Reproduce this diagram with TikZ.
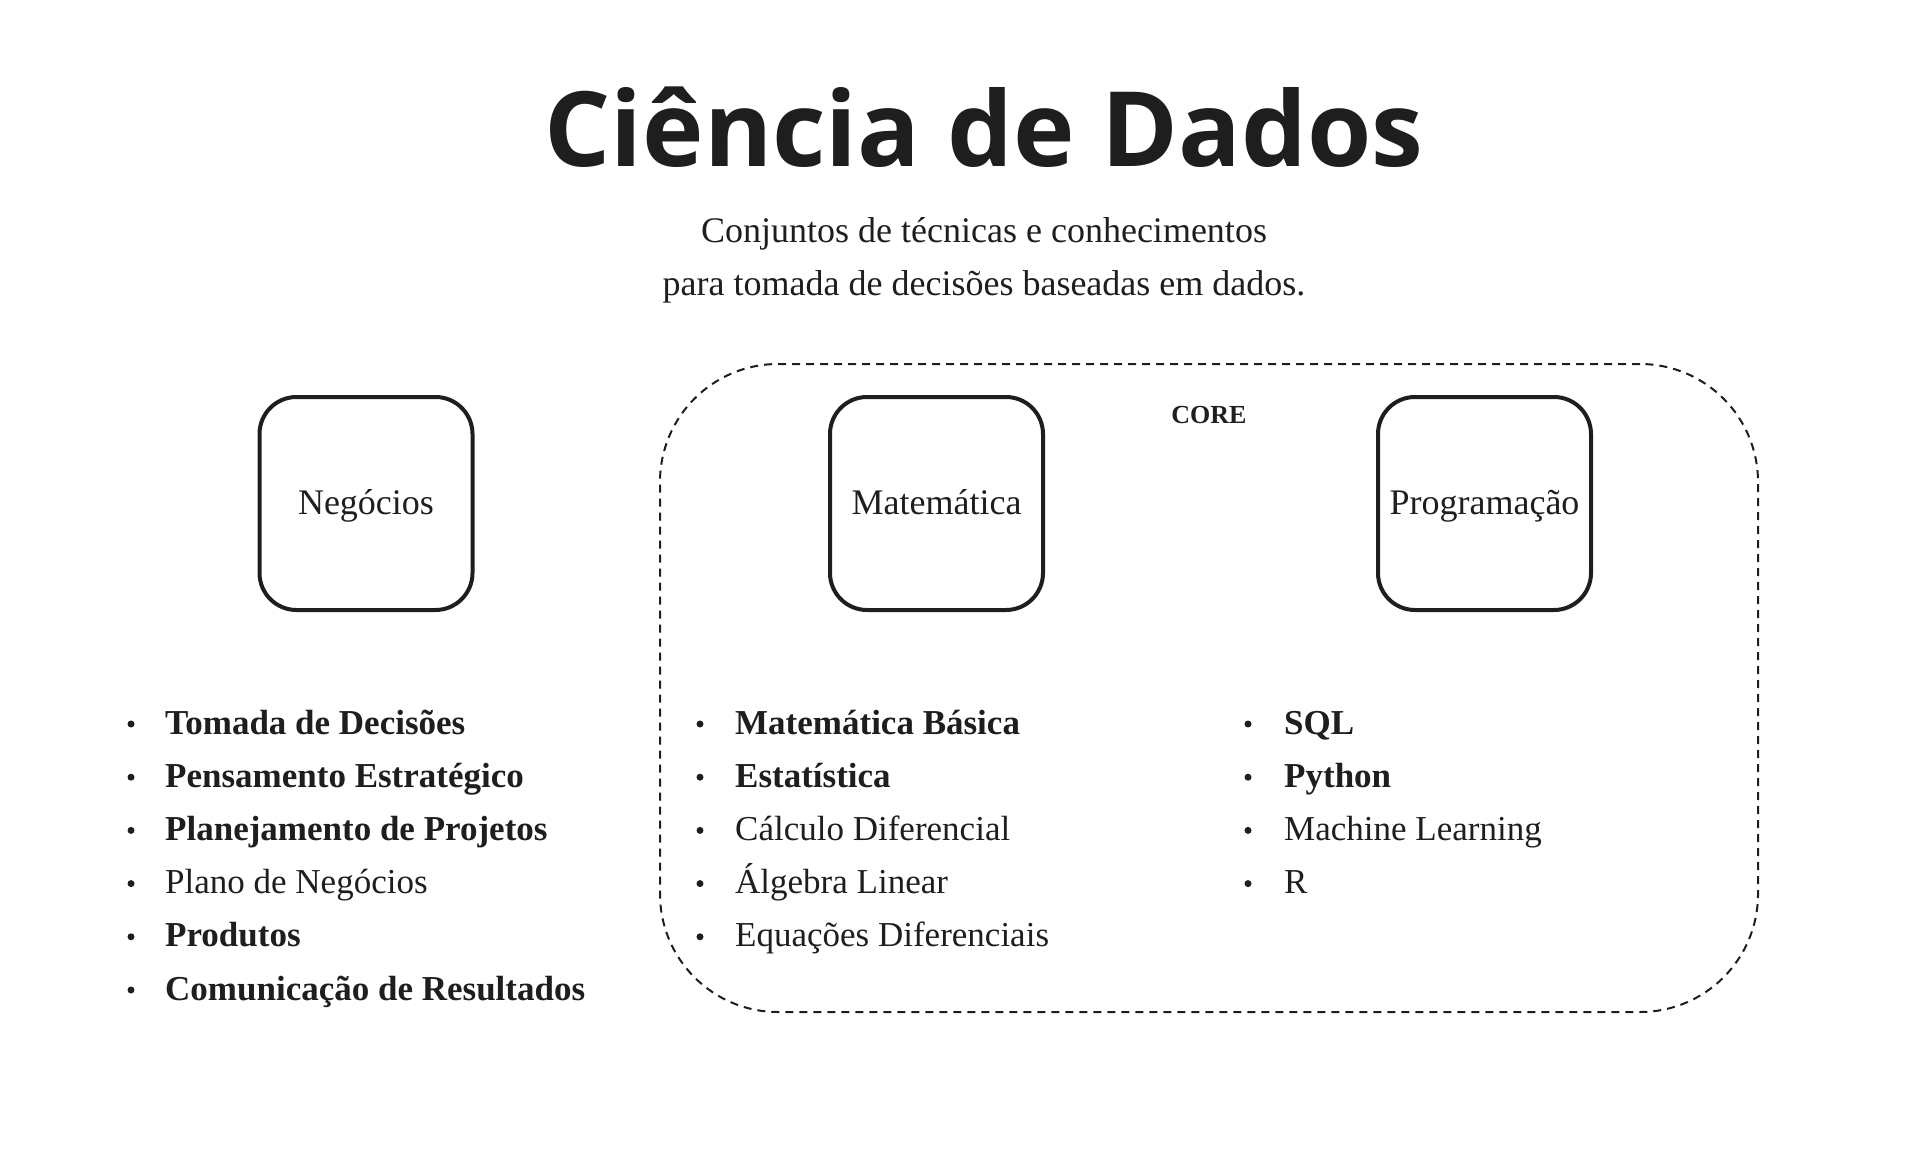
\documentclass[tikz,border=0pt]{standalone}
\usepackage{fontspec}
\setmainfont{Liberation Serif}
\newfontfamily\titlefont{Open Sans}
\usepackage{tikz}
\usetikzlibrary{positioning}
\definecolor{inkGray}{RGB}{30,30,30}

\begin{document}
\begin{tikzpicture}[
    x=1pt, y=-1pt, text=inkGray,
    area/.style={draw=inkGray, line width=4pt, rounded corners=37pt,
      minimum width=213pt, minimum height=213pt, inner sep=0pt,
      text height=30pt, text depth=8pt, font=\fontsize{36}{40}\selectfont},
    coreframe/.style={draw=inkGray, line width=2pt, dash pattern=on 8pt off 6pt,
      rounded corners=118pt, minimum width=1098pt, minimum height=648pt},
    item/.style={anchor=base west, inner sep=0pt, font=\fontsize{35}{40}\selectfont},
    bulletdot/.style={circle, fill=inkGray, inner sep=0pt, minimum size=7pt}
  ]
  \useasboundingbox (0,0) rectangle (1928,1166);

  % title
  \node[font=\titlefont\bfseries\fontsize{104}{120}\selectfont, anchor=base] (title) at (984,167) {Ciência de Dados};
  \node[font=\fontsize{36}{44}\selectfont, anchor=base] (sub1) at (984,243) {Conjuntos de técnicas e conhecimentos};
  \node[font=\fontsize{36}{44}\selectfont, anchor=base] (sub2) at (984,296) {para tomada de decisões baseadas em dados.};

  % core frame
  \node[coreframe] (core) at (1209,688) {};
  \node[font=\fontsize{26}{30}\selectfont\bfseries, anchor=base] (coreLabel) at (1209,423) {CORE};

  % areas
  \node[area] (neg) at (366,503.5) {Negócios};
  \node[area] (mat) at (936.5,503.5) {Matemática};
  \node[area] (prog) at (1484.5,503.5) {Programação};

  % lists
  \foreach \fw/\txt [count=\i] in {\bfseries/Tomada de Decisões, \bfseries/Pensamento Estratégico,
      \bfseries/Planejamento de Projetos, \mdseries/Plano de Negócios, \bfseries/Produtos,
      \bfseries/Comunicação de Resultados} {
    \node[bulletdot] (negDot\i) at (131,{724+53.2*(\i-1)}) {};
    \node[item] (negItem\i) at (165,{734+53.2*(\i-1)}) {\fw\txt};
  }
  \foreach \fw/\txt [count=\i] in {\bfseries/Matemática Básica, \bfseries/Estatística,
      \mdseries/Cálculo Diferencial, \mdseries/Álgebra Linear, \mdseries/Equações Diferenciais} {
    \node[bulletdot] (matDot\i) at (700,{724+53.2*(\i-1)}) {};
    \node[item] (matItem\i) at (735,{734+53.2*(\i-1)}) {\fw\txt};
  }
  \foreach \fw/\txt [count=\i] in {\bfseries/SQL, \bfseries/Python, \mdseries/Machine Learning, \mdseries/R} {
    \node[bulletdot] (progDot\i) at (1248,{724+53.2*(\i-1)}) {};
    \node[item] (progItem\i) at (1284,{734+53.2*(\i-1)}) {\fw\txt};
  }
\end{tikzpicture}
\end{document}
